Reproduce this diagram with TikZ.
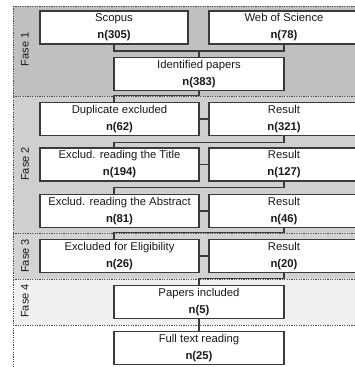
\documentclass[tikz,border=0pt]{standalone}
\usepackage{fontspec}
\setmainfont{Liberation Sans}
\definecolor{fa}{HTML}{C0C0C0}
\definecolor{fb}{HTML}{CFCFCF}
\definecolor{fc}{HTML}{D3D3D3}
\definecolor{fd}{HTML}{F0F0F0}
\definecolor{boxc}{HTML}{3A3A3A}
\definecolor{dotc}{HTML}{4A4A4A}
\definecolor{txt}{HTML}{1A1A1A}
\begin{document}
\begin{tikzpicture}[x=1pt,y=-1pt,
  box/.style={draw=boxc, fill=white, line width=1.2pt, inner sep=0pt, outer sep=0pt,
    align=center, font=\fontsize{11.3}{17}\selectfont, text=txt, minimum height=33pt},
  lbox/.style={box, minimum width=159pt},
  rbox/.style={box, minimum width=150pt},
  mbox/.style={box, minimum width=170pt},
  conn/.style={draw=boxc, line width=1.2pt},
  sepline/.style={draw=dotc, line width=1pt, dash pattern=on 1.2pt off 1.2pt},
  fase/.style={rotate=90, font=\fontsize{11}{13}\selectfont, text=txt}]
\useasboundingbox (0,0) rectangle (355,367);
\begin{scope}
\clip (0,0) rectangle (355,367);
\fill[fa] (13,6) rectangle (360,96);
\fill[fb] (13,96) rectangle (360,233);
\fill[fc] (13,233) rectangle (360,279);
\fill[fd] (13,279) rectangle (360,325);
\draw[sepline] (13,6) -- (360,6);
\draw[sepline] (13,96) -- (360,96);
\draw[sepline] (13,233) -- (360,233);
\draw[sepline] (13,279) -- (360,279);
\draw[sepline] (13,325) -- (360,325);
\draw[sepline] (13,6) -- (13,367);

\node[fase] (f1) at (25,49.5) {Fase 1};
\node[fase] (f2) at (25,164) {Fase 2};
\node[fase] (f3) at (25,256) {Fase 3};
\node[fase] (f4) at (25,301) {Fase 4};

\node[box, minimum width=148pt] (scopus) at (114,27.5) {Scopus\\\textbf{n(305)}};
\node[rbox] (wos) at (284,27.5) {Web of Science\\\textbf{n(78)}};
\node[mbox] (ident) at (199,74) {Identified papers\\\textbf{n(383)}};

\node[lbox] (dup) at (119.5,119) {Duplicate excluded\\\textbf{n(62)}};
\node[rbox] (r1) at (284,119) {Result\\\textbf{n(321)}};
\node[lbox] (title) at (119.5,164.5) {Exclud. reading the Title\\\textbf{n(194)}};
\node[rbox] (r2) at (284,164.5) {Result\\\textbf{n(127)}};
\node[lbox] (abs) at (119.5,211) {Exclud. reading the Abstract\\\textbf{n(81)}};
\node[rbox] (r3) at (284,211) {Result\\\textbf{n(46)}};
\node[lbox] (elig) at (119.5,256) {Excluded for Eligibility\\\textbf{n(26)}};
\node[rbox] (r4) at (284,256) {Result\\\textbf{n(20)}};
\node[mbox] (incl) at (199,302) {Papers included\\\textbf{n(5)}};
\node[mbox] (full) at (199,348) {Full text reading\\\textbf{n(25)}};

\coordinate (j1) at (199,51);
\draw[conn] (scopus.south) -- (scopus.south |- j1) -- (wos.south |- j1) -- (wos.south);
\draw[conn] (j1) -- (ident.north);
\draw[conn] (ident.south) -- ++(0,5) -| (dup.north -| scopus);
\draw[conn] (dup) -- (r1);
\draw[conn] (r1.south) -- ++(0,7) -| (title.north -| scopus);
\draw[conn] (title) -- (r2);
\draw[conn] (r2.south) -- ++(0,6.5) -| (abs.north -| scopus);
\draw[conn] (abs) -- (r3);
\draw[conn] (r3.south) -- ++(0,5) -| (elig.north -| scopus);
\draw[conn] (elig) -- (r4);
\draw[conn] (r4.south) -- ++(0,6) -| (incl.north);
\draw[conn] (incl) -- (full);
\end{scope}
\end{tikzpicture}
\end{document}
